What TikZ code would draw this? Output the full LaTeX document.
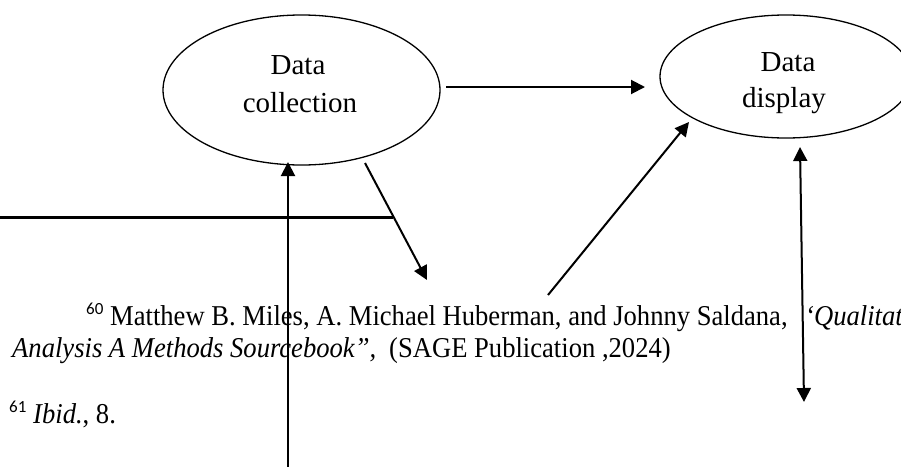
\documentclass[tikz,border=0pt]{standalone}
\usepackage{fontspec}
\setmainfont{Liberation Serif}
\newfontfamily\calib{Carlito}
\usetikzlibrary{shapes.geometric,arrows.meta}
\tikzset{
  bubble/.style={draw, line width=1.3pt, ellipse, inner sep=0pt},
  conn/.style={line width=2pt, -{Triangle[length=14pt,width=14pt]}},
  dconn/.style={line width=2pt, {Triangle[length=14pt,width=14pt]}-{Triangle[length=14pt,width=14pt]}},
  bar/.style={line width=3pt},
  lbl/.style={font=\fontsize{29}{36}\selectfont, inner sep=0pt},
  fn/.style={font=\fontsize{26.6}{32}\selectfont, anchor=base west, inner sep=0pt},
  sup/.style={font=\calib\fontsize{17}{20}\selectfont, anchor=base west, inner sep=0pt}
}
\newcommand{\tallfn}[1]{\scalebox{1}[1.08]{#1}}
\begin{document}
\begin{tikzpicture}[x=1pt,y=-1pt]
\clip (0,0) rectangle (901,466);
\fill[white] (0,0) rectangle (901,466);
% ellipses
\node[bubble, minimum width=277pt, minimum height=150pt] (col) at (301.5,90) {};
\node[bubble, minimum width=252pt, minimum height=123pt] (dis) at (786,76.5) {};
\node[lbl, anchor=base] (colA) at (298,74) {Data};
\node[lbl, anchor=base] (colB) at (300,112) {collection};
\node[lbl, anchor=base] (disA) at (788,71) {Data};
\node[lbl, anchor=base] (disB) at (784,107) {display};
% free ends
\coordinate (h1) at (446,87);
\coordinate (h2) at (645,87);
\coordinate (d1) at (365,163);
\coordinate (d2) at (427,280);
\coordinate (l1) at (0,217);
\coordinate (l2) at (393,217);
\coordinate (v1) at (288,470);
\coordinate (v2) at (288,162);
\coordinate (g1) at (548,295);
\coordinate (g2) at (689,122);
\coordinate (b1) at (800,147);
\coordinate (b2) at (804,402);
% connectors
\draw[conn] (h1) -- (h2);
\draw[conn] (d1) -- (d2);
\draw[bar] (l1) -- (l2);
\draw[conn] (v1) -- (v2);
\draw[conn] (g1) -- (g2);
\draw[dconn] (b1) -- (b2);
% footnote text
\node[sup] (s60) at (86,314) {60};
\node[fn] (t1) at (110,325) {\tallfn{Matthew B. Miles, A. Michael Huberman, and Johnny Saldana,}};
\node[fn] (t1b) at (805,325) {\tallfn{\itshape ‘Qualitative}};
\node[fn] (t2) at (12,357) {\tallfn{\itshape Analysis A Methods Sourcebook”,}};
\node[fn] (t2b) at (389,357) {\tallfn{(SAGE Publication ,2024)}};
\node[sup] (s61) at (9,412) {61};
\node[fn] (t3) at (33,423) {\tallfn{\itshape Ibid.\/\upshape, 8.}};
\end{tikzpicture}
\end{document}
